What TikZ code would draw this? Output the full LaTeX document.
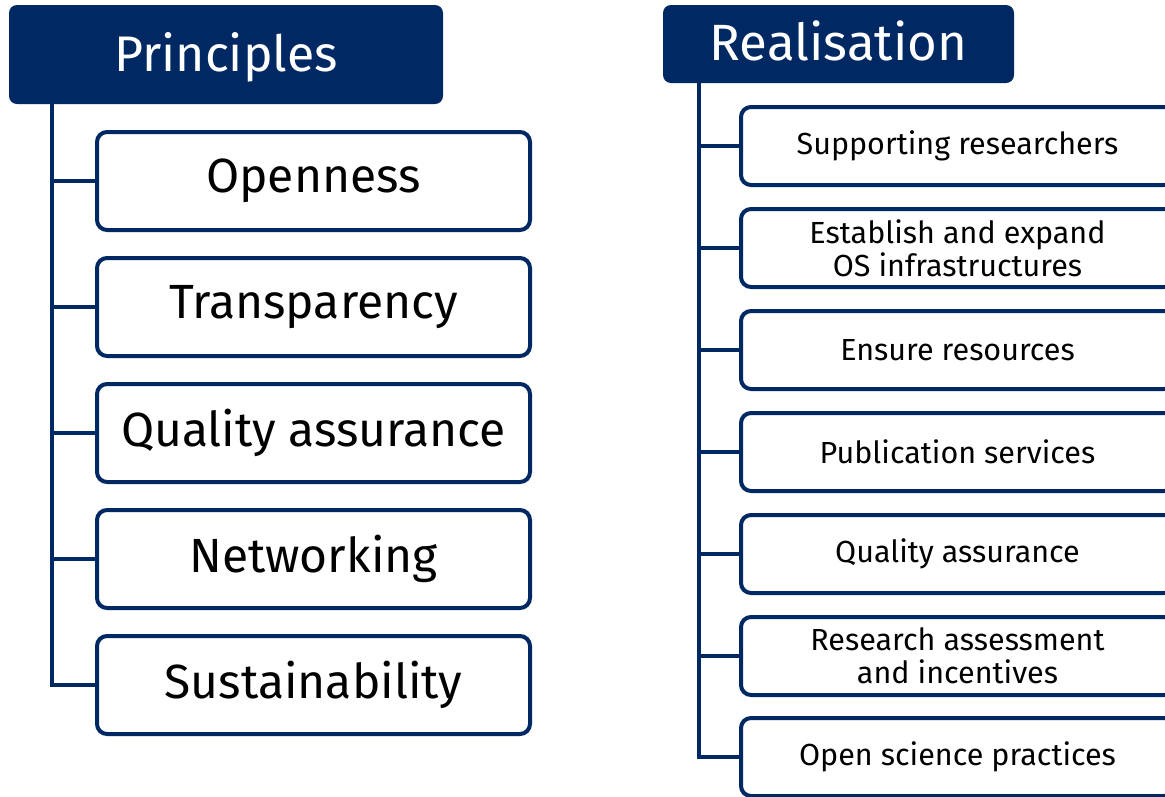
\documentclass[tikz,border=0pt]{standalone}
\usepackage{fontspec}
\setmainfont{Fira Sans}
\definecolor{navy}{RGB}{0,41,99}
\tikzset{
  head/.style={fill=navy, text=white, rounded corners=8pt, inner sep=0pt, font=\fontsize{50}{54}\selectfont},
  lbox/.style={draw=navy, line width=4pt, rounded corners=10pt, fill=white, minimum width=433pt, minimum height=98pt, inner sep=0pt, font=\fontsize{48}{52}\selectfont, text=black},
  rbox/.style={draw=navy, line width=4pt, rounded corners=10pt, fill=white, minimum width=433pt, minimum height=78pt, inner sep=0pt, align=center, font=\fontsize{30.5}{33}\selectfont, text=black},
  link/.style={draw=navy, line width=4.5pt}
}
\begin{document}
\begin{tikzpicture}[x=1pt,y=-1pt]
\useasboundingbox (0,0) rectangle (1165,796);
\clip (0,0) rectangle (1165,796);
% left column
\node[head, minimum width=434pt, minimum height=99pt] (ph) at (226,54.5) {};
\node[text=white, font=\fontsize{50}{54}\selectfont, anchor=base] (pt) at (226,71) {Principles};
\coordinate (ltop) at (52,104);
\node[lbox] (l1) at (313.5,181) {Openness};
\node[lbox] (l2) at (313.5,307) {Transparency};
\node[lbox] (l3) at (313.5,433) {Quality assurance};
\node[lbox] (l4) at (313.5,559) {Networking};
\node[lbox] (l5) at (313.5,685) {Sustainability};
\draw[link] (ltop) |- (l5.west);
\foreach \n in {l1,l2,l3,l4} \draw[link] (ltop |- \n.west) -- (\n.west);
% right column
\node[head, minimum width=351pt, minimum height=78pt] (rh) at (838.5,44) {};
\node[text=white, font=\fontsize{51}{54}\selectfont, anchor=base] (rt) at (838.5,60) {Realisation};
\coordinate (rtop) at (699,83);
\node[rbox] (r1) at (957.5,146) {Supporting researchers};
\node[rbox] (r2) at (957.5,248) {Establish and expand\\OS infrastructures};
\node[rbox] (r3) at (957.5,350) {Ensure resources};
\node[rbox] (r4) at (957.5,452) {Publication services};
\node[rbox] (r5) at (957.5,554) {Quality assurance};
\node[rbox] (r6) at (957.5,656) {Research assessment\\and incentives};
\node[rbox] (r7) at (957.5,757) {Open science practices};
\draw[link] (rtop) |- (r7.west);
\foreach \n in {r1,r2,r3,r4,r5,r6} \draw[link] (rtop |- \n.west) -- (\n.west);
\end{tikzpicture}
\end{document}
